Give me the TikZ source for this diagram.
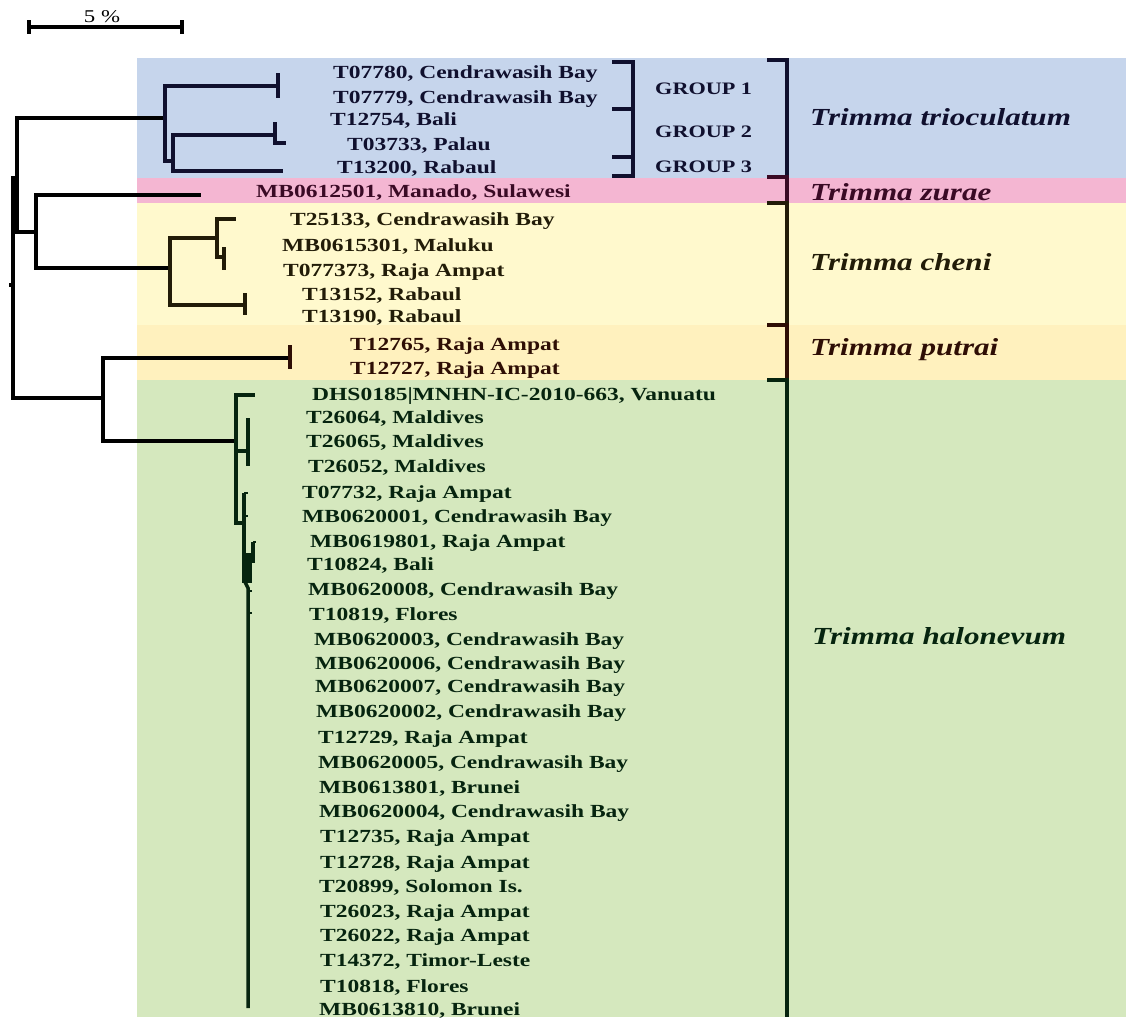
\documentclass[tikz,border=0pt]{standalone}
\usepackage{fontspec}
\newfontfamily\lab[FakeStretch=1.27]{Liberation Serif}
\definecolor{bandA}{RGB}{198,213,236}
\definecolor{bandB}{RGB}{244,182,210}
\definecolor{bandC}{RGB}{255,249,205}
\definecolor{bandD}{RGB}{255,241,190}
\definecolor{bandE}{RGB}{213,232,190}
\definecolor{inkA}{RGB}{16,16,46}
\definecolor{inkB}{RGB}{58,10,37}
\definecolor{inkC}{RGB}{34,28,8}
\definecolor{inkD}{RGB}{46,14,5}
\definecolor{inkE}{RGB}{6,36,15}
\tikzset{
  edge/.style={line width=3.5pt, line join=miter},
  thinedge/.style={line width=2.5pt},
  tiplab/.style={font=\lab\bfseries\fontsize{18.5}{18.5}\selectfont, anchor=west, inner sep=0pt, text height=12pt, text depth=0pt},
  grplab/.style={font=\lab\bfseries\fontsize{17.5}{17.5}\selectfont, anchor=west, inner sep=0pt, text height=11pt, text depth=0pt, text=inkA},
  splab/.style={font=\lab\bfseries\itshape\fontsize{24.5}{24.5}\selectfont, anchor=west, inner sep=0pt, text height=16pt, text depth=0pt},
  scalelab/.style={font=\lab\fontsize{18}{18}\selectfont, inner sep=0pt}
}
\begin{document}
\begin{tikzpicture}[x=1pt,y=-1pt]
\useasboundingbox (0,0) rectangle (1126,1017);
\fill[white] (0,0) rectangle (1126,1017);
% bands
\fill[bandA] (137,58) rectangle (1126,178);
\fill[bandB] (137,178) rectangle (1126,203);
\fill[bandC] (137,203) rectangle (1126,325);
\fill[bandD] (137,325) rectangle (1126,380);
\fill[bandE] (137,380) rectangle (1126,1017);

% scale bar
\coordinate (s1) at (29,27);
\coordinate (s2) at (182,27);
\draw[edge] (s1) -- (s2);
\draw[edge] (s1) ++(0,-7) -- ++(0,14);
\draw[edge] (s2) ++(0,-7) -- ++(0,14);
\node[scalelab] (scale) at (102,17) {5 \%};

% internal nodes
\coordinate (root) at (9,285);
\coordinate (R) at (13,285);
\coordinate (A) at (17,178);
\coordinate (T) at (165,118);
\coordinate (T2) at (173,161);
\coordinate (g1) at (278,86);
\coordinate (g2) at (275,135);
\coordinate (t5) at (283,171);
\coordinate (B) at (36,232);
\coordinate (z) at (201,195);
\coordinate (C) at (170,268);
\coordinate (D) at (217,238);
\coordinate (c1) at (236,219);
\coordinate (E) at (224,257);
\coordinate (c5) at (245,305);
\coordinate (P) at (103,398);
\coordinate (pu) at (290,358);
\coordinate (H) at (236,441);
\coordinate (h1) at (255,395);
\coordinate (M) at (248,451);
\coordinate (H2) at (244,523);

% root part
\draw[edge] (root) -- (R);
\draw[edge] (R) |- (A);
\draw[edge] (R) |- (P);
\draw[edge] (A) |- (T);
\draw[edge] (A) |- (B);
% trioculatum
\draw[edge, inkA] (T) |- (g1);
\draw[edge, inkA] (T) |- (T2);
\draw[edge, inkA] (T2) |- (g2);
\draw[edge, inkA] (T2) |- (t5);
\draw[edge, inkA] (g1) ++(0,-13) -- ++(0,25);
\draw[edge, inkA] (g2) ++(0,-13) -- ++(0,21) -- ++(11,0);
% zurae / cheni
\draw[edge] (B) |- (z);
\draw[edge] (B) |- (C);
\draw[edge, inkC] (C) |- (D);
\draw[edge, inkC] (C) |- (c5);
\draw[edge, inkC] (D) |- (c1);
\draw[edge, inkC] (D) |- (E);
\draw[edge, inkC] (E) ++(0,-10) -- ++(0,23);
\draw[edge, inkC] (c5) ++(0,-12) -- ++(0,22);
% putrai / halonevum
\draw[edge] (P) |- (pu);
\draw[edge] (P) |- (H);
\draw[edge, inkD] (pu) ++(0,-13) -- ++(0,24);
\draw[edge, inkE] (H) |- (h1);
\draw[edge, inkE] (H) |- (M);
\draw[edge, inkE] (H) |- (H2);
\draw[edge, inkE] (M) ++(0,-33) -- ++(0,48);
\draw[edge, inkE] (H2) ++(0,-30) -- ++(0,90);
\draw[thinedge, inkE] (H2) ++(0,-30) -- ++(4,0);
\draw[thinedge, inkE] (H2) ++(0,-7) -- ++(4,0);
\fill[inkE] (242.5,553) rectangle (252,583);
\draw[edge, inkE] (253,542) -- (253,563);
\draw[thinedge, inkE] (253,542) -- (256,542);
\draw[edge, inkE] (245,582) -- (248,588) -- (248,1008);
\draw[thinedge, inkE] (248,591) -- (252,591);
\draw[thinedge, inkE] (248,613) -- (252,613);

% tip labels
\begin{scope}[every node/.style={tiplab}]
\node[text=inkA] (a1) at (333,72) {T07780, Cendrawasih Bay};
\node[text=inkA] (a2) at (333,97) {T07779, Cendrawasih Bay};
\node[text=inkA] (a3) at (330,119) {T12754, Bali};
\node[text=inkA] (a4) at (347,144) {T03733, Palau};
\node[text=inkA] (a5) at (337,167) {T13200, Rabaul};
\node[text=inkB] (b1) at (256,191) {MB0612501, Manado, Sulawesi};
\node[text=inkC] (c1l) at (290,219) {T25133, Cendrawasih Bay};
\node[text=inkC] (c2l) at (282,245) {MB0615301, Maluku};
\node[text=inkC] (c3l) at (283,270) {T077373, Raja Ampat};
\node[text=inkC] (c4l) at (302,294) {T13152, Rabaul};
\node[text=inkC] (c5l) at (302,316) {T13190, Rabaul};
\node[text=inkD] (d1) at (350,344) {T12765, Raja Ampat};
\node[text=inkD] (d2) at (350,368) {T12727, Raja Ampat};
\node[text=inkE] (e1) at (312,394) {DHS0185|MNHN-IC-2010-663, Vanuatu};
\node[text=inkE] (e2) at (306,417) {T26064, Maldives};
\node[text=inkE] (e3) at (306,441) {T26065, Maldives};
\node[text=inkE] (e4) at (308,466) {T26052, Maldives};
\node[text=inkE] (e5) at (302,492) {T07732, Raja Ampat};
\node[text=inkE] (e6) at (302,516) {MB0620001, Cendrawasih Bay};
\node[text=inkE] (e7) at (310,541) {MB0619801, Raja Ampat};
\node[text=inkE] (e8) at (307,564) {T10824, Bali};
\node[text=inkE] (e9) at (308,589) {MB0620008, Cendrawasih Bay};
\node[text=inkE] (e10) at (309,614) {T10819, Flores};
\node[text=inkE] (e11) at (314,639) {MB0620003, Cendrawasih Bay};
\node[text=inkE] (e12) at (315,663) {MB0620006, Cendrawasih Bay};
\node[text=inkE] (e13) at (315,686) {MB0620007, Cendrawasih Bay};
\node[text=inkE] (e14) at (316,711) {MB0620002, Cendrawasih Bay};
\node[text=inkE] (e15) at (318,737) {T12729, Raja Ampat};
\node[text=inkE] (e16) at (318,762) {MB0620005, Cendrawasih Bay};
\node[text=inkE] (e17) at (319,787) {MB0613801, Brunei};
\node[text=inkE] (e18) at (319,811) {MB0620004, Cendrawasih Bay};
\node[text=inkE] (e19) at (320,836) {T12735, Raja Ampat};
\node[text=inkE] (e20) at (320,862) {T12728, Raja Ampat};
\node[text=inkE] (e21) at (319,886) {T20899, Solomon Is.};
\node[text=inkE] (e22) at (320,911) {T26023, Raja Ampat};
\node[text=inkE] (e23) at (320,935) {T26022, Raja Ampat};
\node[text=inkE] (e24) at (320,960) {T14372, Timor-Leste};
\node[text=inkE] (e25) at (320,986) {T10818, Flores};
\node[text=inkE] (e26) at (319,1009) {MB0613810, Brunei};
\end{scope}

% group brackets
\coordinate (gb0) at (612,62);
\coordinate (gb1) at (612,109);
\coordinate (gb2) at (612,157);
\coordinate (gb3) at (612,176);
\draw[edge, inkA] (gb0) -- ++(21,0) |- (gb3);
\draw[edge, inkA] (gb1) -- ++(21,0);
\draw[edge, inkA] (gb2) -- ++(21,0);
\node[grplab] (G1) at (655,89) {GROUP 1};
\node[grplab] (G2) at (655,132) {GROUP 2};
\node[grplab] (G3) at (655,167) {GROUP 3};

% species brackets
\coordinate (k0) at (767,60);
\coordinate (k1) at (767,177);
\coordinate (k2) at (767,203);
\coordinate (k3) at (767,325);
\coordinate (k4) at (767,380);
\coordinate (kend) at (787,1017);
\draw[edge, inkA] (k0) -- ++(20,0) -- (787,177);
\draw[edge, inkB] (k1) -- ++(20,0) -- (787,203);
\draw[edge, inkC] (k2) -- ++(20,0) -- (787,325);
\draw[edge, inkD] (k3) -- ++(20,0) -- (787,380);
\draw[edge, inkE] (k4) -- ++(20,0) -- (kend);

\node[splab, text=inkA] (sA) at (810,117) {Trimma trioculatum};
\node[splab, text=inkB] (sB) at (810,192) {Trimma zurae};
\node[splab, text=inkC] (sC) at (810,262) {Trimma cheni};
\node[splab, text=inkD] (sD) at (810,347) {Trimma putrai};
\node[splab, text=inkE] (sE) at (812,636) {Trimma halonevum};
\end{tikzpicture}
\end{document}
